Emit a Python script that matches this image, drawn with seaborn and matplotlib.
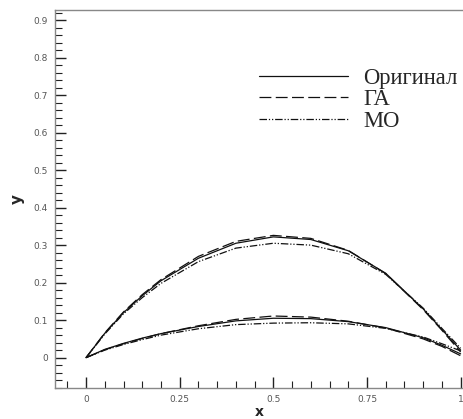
#!/usr/bin/env python3
"""Airfoil-like profile comparison: original vs GA vs MO."""

import matplotlib

matplotlib.use("Agg")
import matplotlib.pyplot as plt
import pandas as pd
import seaborn as sns
from matplotlib.ticker import MultipleLocator

# chord stations
x_pts = [0.0, 0.05, 0.1, 0.15, 0.2, 0.3, 0.4, 0.5, 0.6, 0.7, 0.8, 0.9, 0.95, 1.0]

# upper curves
upper_orig = [0.0, 0.065, 0.120, 0.165, 0.205, 0.265, 0.305, 0.322, 0.315, 0.285, 0.225, 0.130, 0.075, 0.020]
upper_ga = [0.0, 0.066, 0.122, 0.168, 0.208, 0.270, 0.310, 0.326, 0.318, 0.286, 0.224, 0.128, 0.073, 0.015]
upper_mo = [0.0, 0.063, 0.117, 0.160, 0.198, 0.256, 0.292, 0.305, 0.300, 0.277, 0.222, 0.132, 0.078, 0.025]

# lower curves
lower_orig = [0.0, 0.022, 0.038, 0.052, 0.064, 0.083, 0.098, 0.105, 0.104, 0.096, 0.080, 0.053, 0.033, 0.010]
lower_ga = [0.0, 0.021, 0.037, 0.051, 0.064, 0.085, 0.102, 0.111, 0.108, 0.097, 0.079, 0.050, 0.030, 0.005]
lower_mo = [0.0, 0.020, 0.035, 0.048, 0.060, 0.077, 0.088, 0.092, 0.093, 0.090, 0.078, 0.055, 0.037, 0.018]

methods = ["Оригинал", "ГА", "МО"]
x_ticks = [0, 0.25, 0.5, 0.75, 1]
x_tick_labels = ["0", "0.25", "0.5", "0.75", "1"]
y_ticks = [0, 0.1, 0.2, 0.3, 0.4, 0.5, 0.6, 0.7, 0.8, 0.9]
y_tick_labels = ["0", "0.1", "0.2", "0.3", "0.4", "0.5", "0.6", "0.7", "0.8", "0.9"]


def build_frame() -> pd.DataFrame:
    rows = []
    curves = {
        "Оригинал": (upper_orig, lower_orig),
        "ГА": (upper_ga, lower_ga),
        "МО": (upper_mo, lower_mo),
    }
    for name, (up, lo) in curves.items():
        for xv, yv in zip(x_pts, up):
            rows.append({"x": xv, "y": yv, "method": name, "side": "upper"})
        for xv, yv in zip(x_pts, lo):
            rows.append({"x": xv, "y": yv, "method": name, "side": "lower"})
    return pd.DataFrame(rows)


def main() -> None:
    sns.set_theme(style="ticks")
    plt.rcParams["font.family"] = ["DejaVu Sans"]

    df = build_frame()

    fig = plt.figure(figsize=(4.64, 4.19), dpi=100)
    ax = fig.add_axes([0.1185, 0.074, 0.8815, 0.903])

    sns.lineplot(
        data=df,
        x="x",
        y="y",
        style="method",
        style_order=methods,
        units="side",
        estimator=None,
        sort=False,
        color="#111111",
        linewidth=0.9,
        dashes={"Оригинал": "", "ГА": (9.5, 3.5), "МО": (6, 1.5, 1, 1.5, 1, 1.5)},
        ax=ax,
    )

    ax.set_xlim(-0.083, 1.009)
    ax.set_ylim(-0.081, 0.928)

    ax.set_xticks(x_ticks)
    ax.set_xticklabels(x_tick_labels)
    ax.set_yticks(y_ticks)
    ax.set_yticklabels(y_tick_labels)
    ax.xaxis.set_minor_locator(MultipleLocator(0.05))
    ax.yaxis.set_minor_locator(MultipleLocator(0.02))
    ax.tick_params(which="both", direction="in", labelsize=6.5, labelcolor="#555555", color="#222222")
    ax.tick_params(which="major", length=8, width=1.0, pad=5)
    ax.tick_params(which="minor", length=5, width=0.8)

    for side in ["left", "top", "bottom"]:
        ax.spines[side].set_color("#888888")
        ax.spines[side].set_linewidth(1.0)
    ax.spines["right"].set_visible(False)

    ax.set_xlabel("x", fontsize=10, fontweight="bold", labelpad=1)
    ax.set_ylabel("y", fontsize=11, fontweight="bold", labelpad=6)

    handles, labels = ax.get_legend_handles_labels()
    ax.legend(
        handles,
        labels,
        loc="upper left",
        bbox_to_anchor=(0.514, 0.887),
        bbox_transform=fig.transFigure,
        frameon=False,
        handlelength=3.95,
        handletextpad=0.65,
        labelspacing=0.02,
        prop={"family": "Liberation Serif", "size": 16.3},
    )

    fig.savefig("out.png", dpi=100)
    plt.close(fig)


if __name__ == "__main__":
    main()
